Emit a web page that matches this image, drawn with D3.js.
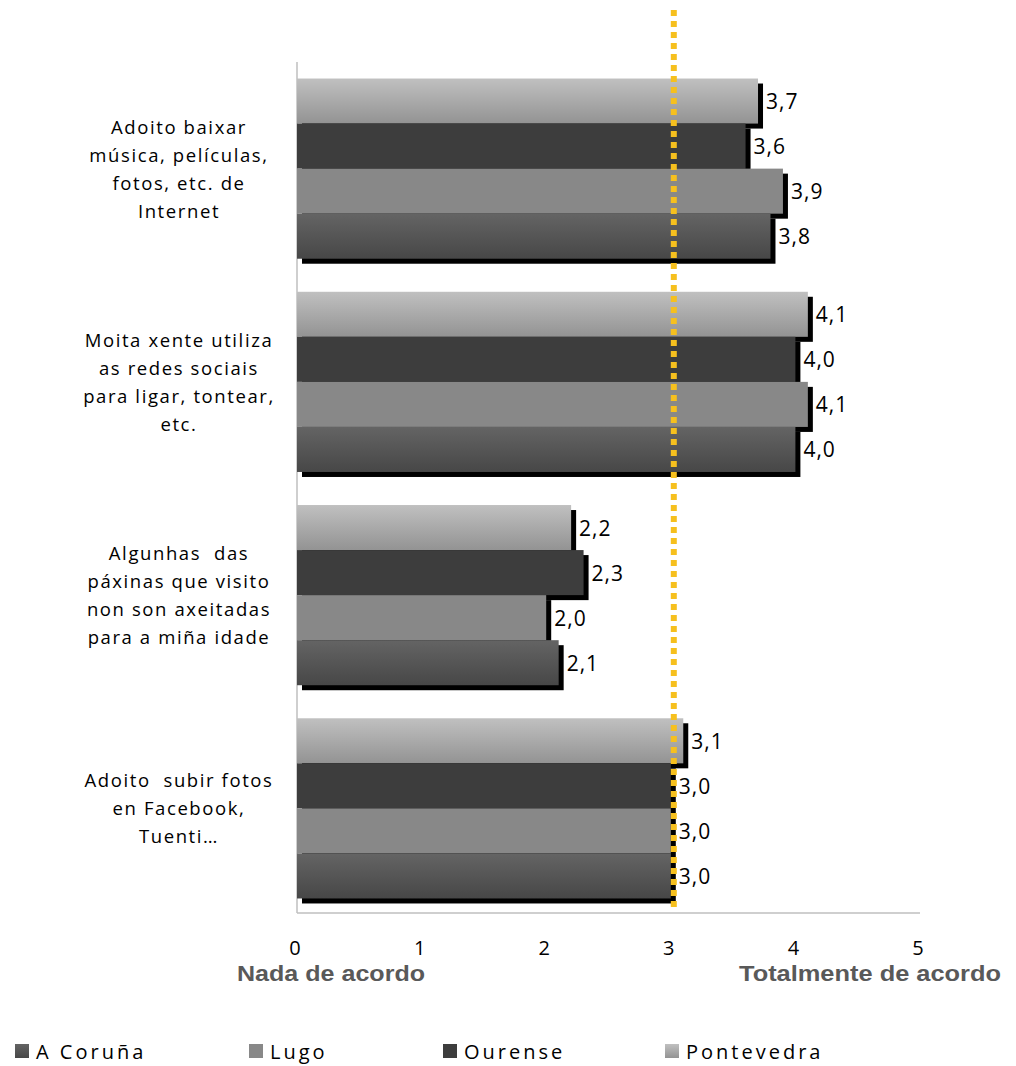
<!DOCTYPE html>
<html>
<head>
<meta charset="utf-8">
<script src="https://cdn.jsdelivr.net/npm/d3@7"></script>
<style>
  body { margin: 0; background: #fff; }
  svg { display: block; }
  text { white-space: pre; }
</style>
</head>
<body>
<svg id="chart" width="1016" height="1066"></svg>
<script>
// ---- data ----
const categories = [
  "Adoito baixar música, películas, fotos, etc. de Internet",
  "Moita xente utiliza as redes sociais para ligar, tontear, etc.",
  "Algunhas das páxinas que visito non son axeitadas para a miña idade",
  "Adoito subir fotos en Facebook, Tuenti..."
];
const categoryLines = [
  ["Adoito baixar", "música, películas,", "fotos, etc. de", "Internet"],
  ["Moita xente utiliza", "as redes sociais", "para ligar, tontear,", "etc."],
  ["Algunhas  das", "páxinas que visito", "non son axeitadas", "para a miña idade"],
  ["Adoito  subir fotos", "en Facebook,", "Tuenti…"]
];
const seriesNames = ["A Coruña", "Lugo", "Ourense", "Pontevedra"];
const aCoruna    = [3.8, 4.0, 2.1, 3.0];
const lugo       = [3.9, 4.1, 2.0, 3.0];
const ourense    = [3.6, 4.0, 2.3, 3.0];
const pontevedra = [3.7, 4.1, 2.2, 3.1];
const xTicks = [0, 1, 2, 3, 4, 5];
const referenceValue = 3;
const axisTitleLeft = "Nada de acordo";
const axisTitleRight = "Totalmente de acordo";

const seriesValues = { "A Coruña": aCoruna, "Lugo": lugo, "Ourense": ourense, "Pontevedra": pontevedra };
// drawing order within group, top to bottom
const stackOrder = ["Pontevedra", "Ourense", "Lugo", "A Coruña"];

const svg = d3.select("#chart");
const defs = svg.append("defs");
function vGrad(id, c1, c2) {
  const g = defs.append("linearGradient").attr("id", id).attr("x1", 0).attr("y1", 0).attr("x2", 0).attr("y2", 1);
  g.append("stop").attr("offset", "0%").attr("stop-color", c1);
  g.append("stop").attr("offset", "100%").attr("stop-color", c2);
}
vGrad("gCoruna", "#646464", "#474747");
vGrad("gPonte", "#c0c0c0", "#939393");
const fills = {
  "A Coruña": "url(#gCoruna)",
  "Lugo": "#888888",
  "Ourense": "#3d3d3d",
  "Pontevedra": "url(#gPonte)"
};

const x = d3.scaleLinear().domain([0, 5]).range([297, 920]);
const y = d3.scaleBand().domain(categories).range([62, 915]).paddingInner(0.155).paddingOuter(0.0775);
const ySub = d3.scaleBand().domain(stackOrder).range([0, y.bandwidth()]);

// axes lines
svg.append("line").attr("x1", x(0)).attr("x2", x(0)).attr("y1", 62).attr("y2", 913)
  .attr("stroke", "#bfbfbf").attr("stroke-width", 1.5);
svg.append("line").attr("x1", x(0)).attr("x2", x(5)).attr("y1", 913).attr("y2", 913)
  .attr("stroke", "#bfbfbf").attr("stroke-width", 1.5);

const groups = svg.selectAll("g.grp").data(categories).enter().append("g")
  .attr("class", "grp").attr("transform", d => `translate(0,${y(d)})`);

// shadows
groups.each(function(cat, i) {
  const g = d3.select(this);
  g.selectAll("rect.sh").data(stackOrder).enter().append("rect")
    .attr("class", "sh")
    .attr("x", x(0) + 5)
    .attr("y", s => ySub(s) + 5)
    .attr("width", s => x(seriesValues[s][i]) - x(0))
    .attr("height", ySub.bandwidth())
    .attr("fill", "#000");
});
// bars
groups.each(function(cat, i) {
  const g = d3.select(this);
  g.selectAll("rect.bar").data(stackOrder).enter().append("rect")
    .attr("class", "bar")
    .attr("x", x(0))
    .attr("y", s => ySub(s))
    .attr("width", s => x(seriesValues[s][i]) - x(0))
    .attr("height", ySub.bandwidth())
    .attr("fill", s => fills[s]);
});

// reference line
svg.append("line").attr("x1", x(referenceValue) + 3).attr("x2", x(referenceValue) + 3)
  .attr("y1", 10).attr("y2", 912)
  .attr("stroke", "#f6c01e").attr("stroke-width", 6).attr("stroke-dasharray", "6,5");

// value labels
groups.each(function(cat, i) {
  const g = d3.select(this);
  g.selectAll("text.val").data(stackOrder).enter().append("text")
    .attr("class", "val")
    .attr("x", s => x(seriesValues[s][i]) + 8)
    .attr("y", s => ySub(s) + ySub.bandwidth() / 2 + 8)
    .attr("font-family", "'Open Sans', sans-serif")
    .attr("font-size", 21)
    .attr("letter-spacing", 1)
    .attr("fill", "#000")
    .text(s => seriesValues[s][i].toFixed(1).replace(".", ","));
});

// category labels
const catG = svg.selectAll("text.cat").data(categories).enter().append("text")
  .attr("class", "cat")
  .attr("text-anchor", "middle")
  .attr("font-family", "'Open Sans', sans-serif")
  .attr("font-size", 18.5)
  .attr("letter-spacing", 1.6)
  .attr("fill", "#000");
catG.each(function(cat, i) {
  const lines = categoryLines[i];
  const cy = y(cat) + y.bandwidth() / 2;
  const lh = 28;
  const top = cy - (lines.length - 1) * lh / 2 + 7;
  d3.select(this).selectAll("tspan").data(lines).enter().append("tspan")
    .attr("x", 179).attr("y", (d, k) => top + k * lh).text(d => d);
});

// tick labels
svg.selectAll("text.tick").data(xTicks).enter().append("text")
  .attr("x", d => x(d) - 2).attr("y", 955)
  .attr("text-anchor", "middle")
  .attr("font-family", "'Open Sans', sans-serif")
  .attr("font-size", 20)
  .attr("fill", "#000")
  .text(d => d);

// axis titles
svg.append("text").attr("x", 237).attr("y", 981)
  .attr("font-family", "'Liberation Sans Narrow', 'Liberation Sans', Arial, sans-serif").attr("font-weight", "bold")
  .attr("font-size", 22).attr("fill", "#595959")
  .attr("textLength", 188).attr("lengthAdjust", "spacingAndGlyphs")
  .text(axisTitleLeft);
svg.append("text").attr("x", 739).attr("y", 981)
  .attr("font-family", "'Liberation Sans Narrow', 'Liberation Sans', Arial, sans-serif").attr("font-weight", "bold")
  .attr("font-size", 22).attr("fill", "#595959")
  .attr("textLength", 262).attr("lengthAdjust", "spacingAndGlyphs")
  .text(axisTitleRight);

// legend
const legendX = [15, 249, 443, 665];
const lg = svg.selectAll("g.leg").data(seriesNames).enter().append("g")
  .attr("class", "leg").attr("transform", (d, i) => `translate(${legendX[i]},1044)`);
lg.append("rect").attr("width", 14).attr("height", 14).attr("fill", d => fills[d]);
lg.append("text").attr("x", 21).attr("y", 15)
  .attr("font-family", "'Open Sans', sans-serif").attr("font-size", 20)
  .attr("letter-spacing", 3).attr("fill", "#000")
  .text(d => d);
</script>
</body>
</html>
